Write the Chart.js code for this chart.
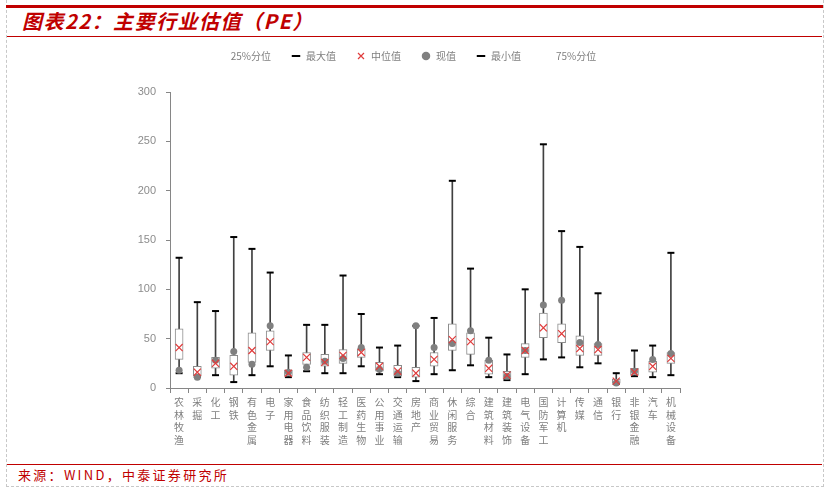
<!DOCTYPE html>
<html>
<head>
<meta charset="utf-8">
<script src="https://cdn.jsdelivr.net/npm/chart.js@4.4.1/dist/chart.umd.min.js"></script>
<style>
  body { margin: 0; width: 828px; height: 495px; background: #fff; position: relative; overflow: hidden; font-family: "Noto Sans CJK SC", sans-serif; }
  #frame { position: absolute; left: 6px; top: 0; width: 816px; height: 486px; border: 1px dashed #c8c8c8; border-top: none; }
  #topline { position: absolute; left: 6px; top: 5px; width: 817px; height: 3px; background: #c00000; }
  #title { position: absolute; left: 22px; top: 8px; font-size: 20px; letter-spacing: 1.5px; font-weight: bold; font-style: italic; color: #c00000; line-height: 26px; }
  #line2 { position: absolute; left: 7px; top: 36px; width: 815px; height: 1px; background: #c00000; }
  #line3 { position: absolute; left: 7px; top: 464px; width: 815px; height: 1px; background: #c00000; }
  #source { position: absolute; left: 18px; top: 466px; font-size: 13px; letter-spacing: 2.3px; color: #c00000; line-height: 18px; }
  canvas { position: absolute; left: 0; top: 0; }
</style>
</head>
<body>
<div id="frame"></div>
<div id="topline"></div>
<div id="title">图表22：主要行业估值（PE）</div>
<div id="line2"></div>
<div id="line3"></div>
<div id="source">来源：WIND，中泰证券研究所</div>
<canvas id="myChart" width="828" height="495"></canvas>
<script>
const categories = ['农林牧渔', '采掘', '化工', '钢铁', '有色金属', '电子', '家用电器', '食品饮料', '纺织服装', '轻工制造',
  '医药生物', '公用事业', '交通运输', '房地产', '商业贸易', '休闲服务', '综合', '建筑材料', '建筑装饰', '电气设备',
  '国防军工', '计算机', '传媒', '通信', '银行', '非银金融', '汽车', '机械设备'];
const minVals = [15, 11, 13, 6, 13, 22, 11, 17, 15, 15, 22, 14, 11, 7, 14, 18, 23, 11, 8, 14, 29, 31, 21, 25, 4, 12, 11, 13];
const q1Vals  = [29, 12, 20, 13, 26, 38, 12, 24, 22, 25, 31, 17, 12, 11, 22, 38, 34, 14, 9, 31, 51, 46, 33, 33, 5, 13, 16, 25];
const medVals = [41, 16, 25, 22, 38, 47, 15, 31, 26, 33, 36, 22, 17, 15, 29, 49, 47, 20, 13, 38, 61, 55, 40, 39, 7, 16, 22, 30];
const q3Vals  = [60, 22, 31, 33, 56, 58, 18, 36, 34, 39, 40, 26, 23, 21, 36, 65, 56, 28, 17, 45, 76, 65, 53, 45, 9, 20, 27, 36];
const maxVals = [132, 87, 78, 153, 141, 117, 33, 64, 64, 114, 75, 41, 43, 63, 71, 210, 121, 51, 34, 100, 247, 159, 143, 96, 15, 38, 43, 137];
const curVals = [18, 11, 28, 37, 24, 63, 16, 21, 27, 30, 41, 19, 15, 63, 41, 45, 58, 28, 12, 38, 84, 89, 46, 44, 5, 17, 29, 35];
const legendNames = ['25%分位', '最大值', '中位值', '现值', '最小值', '75%分位'];

const FONT = '"Noto Sans CJK SC", sans-serif'
Chart.defaults.font.family = FONT

// legend markers, in the same order as legendNames
const markers = [
  {pointStyle: 'circle', fillStyle: 'rgba(0,0,0,0)', strokeStyle: 'rgba(0,0,0,0)', lineWidth: 0},
  {pointStyle: 'line', fillStyle: '#000', strokeStyle: '#000', lineWidth: 2},
  {pointStyle: 'crossRot', fillStyle: '#e03c3c', strokeStyle: '#e03c3c', lineWidth: 1.2},
  {pointStyle: 'circle', fillStyle: '#808080', strokeStyle: '#808080', lineWidth: 0},
  {pointStyle: 'line', fillStyle: '#000', strokeStyle: '#000', lineWidth: 2},
  {pointStyle: 'circle', fillStyle: 'rgba(0,0,0,0)', strokeStyle: 'rgba(0,0,0,0)', lineWidth: 0}
]

// push the plot area down a bit below the legend
const legendSpace = {
  id: 'legendSpace',
  beforeInit(chart) {
    const fit = chart.legend.fit
    chart.legend.fit = function () {
      fit.call(this)
      this.height += 21
    }
  }
}

const ctx = document.getElementById('myChart')
new Chart(ctx, {
  type: 'bar',
  plugins: [legendSpace],
  data: {
    labels: categories.map(c => c.split('')),
    datasets: [
      {
        label: 'whisker',
        data: minVals.map((v, i) => [v, maxVals[i]]),
        backgroundColor: '#404040',
        barThickness: 1,
        grouped: false,
        order: 5
      },
      {
        label: 'box',
        data: q1Vals.map((v, i) => [v, q3Vals[i]]),
        backgroundColor: '#ffffff',
        borderColor: '#8c8c8c',
        borderWidth: 1,
        borderSkipped: false,
        barThickness: 8,
        grouped: false,
        order: 3
      },
      {
        type: 'line', label: '最大值', data: maxVals, showLine: false,
        pointStyle: 'line', pointRadius: 3.5, pointBorderColor: '#000', pointBorderWidth: 2, order: 4
      },
      {
        type: 'line', label: '最小值', data: minVals, showLine: false,
        pointStyle: 'line', pointRadius: 3.5, pointBorderColor: '#000', pointBorderWidth: 2, order: 4
      },
      {
        type: 'line', label: '现值', data: curVals, showLine: false,
        pointStyle: 'circle', pointRadius: 3.5, pointBackgroundColor: '#808080', pointBorderColor: '#808080', pointBorderWidth: 0, order: 1
      },
      {
        type: 'line', label: '中位值', data: medVals, showLine: false,
        pointStyle: 'crossRot', pointRadius: 5, pointBorderColor: '#e03c3c', pointBorderWidth: 1.2, order: 0
      }
    ]
  },
  options: {
    responsive: false,
    animation: false,
    layout: { padding: { top: 31, right: 16, left: 0, bottom: 0 } },
    plugins: {
      tooltip: { enabled: false },
      legend: {
        position: 'top',
        onClick: null,
        labels: {
          usePointStyle: true,
          boxHeight: 6,
          padding: 20,
          color: '#7f7f7f',
          font: { size: 10 },
          generateLabels: () => legendNames.map((name, i) => ({
            text: name,
            fontColor: '#7f7f7f',
            hidden: false,
            ...markers[i]
          }))
        }
      }
    },
    scales: {
      x: {
        grid: { drawOnChartArea: false, tickLength: 5, color: '#868686' },
        border: { color: '#868686' },
        ticks: { autoSkip: false, maxRotation: 0, padding: 3, color: '#7f7f7f', font: { size: 10, lineHeight: 1.25 } },
        afterFit(s) { s.height = 107 }
      },
      y: {
        min: 0,
        max: 300,
        ticks: { stepSize: 50, padding: 10, color: '#8c8c8c', font: { size: 11, family: '"Liberation Sans", Arial, sans-serif' } },
        grid: { drawOnChartArea: false, tickLength: 4, color: '#868686' },
        border: { color: '#868686' },
        afterFit(s) { s.width = 170 }
      },
      y2: {
        position: 'right',
        min: 0,
        max: 300,
        grid: { display: false },
        border: { display: false },
        ticks: { display: false },
        afterFit(s) { s.width = 132 }
      }
    }
  }
});
</script>
</body>
</html>
